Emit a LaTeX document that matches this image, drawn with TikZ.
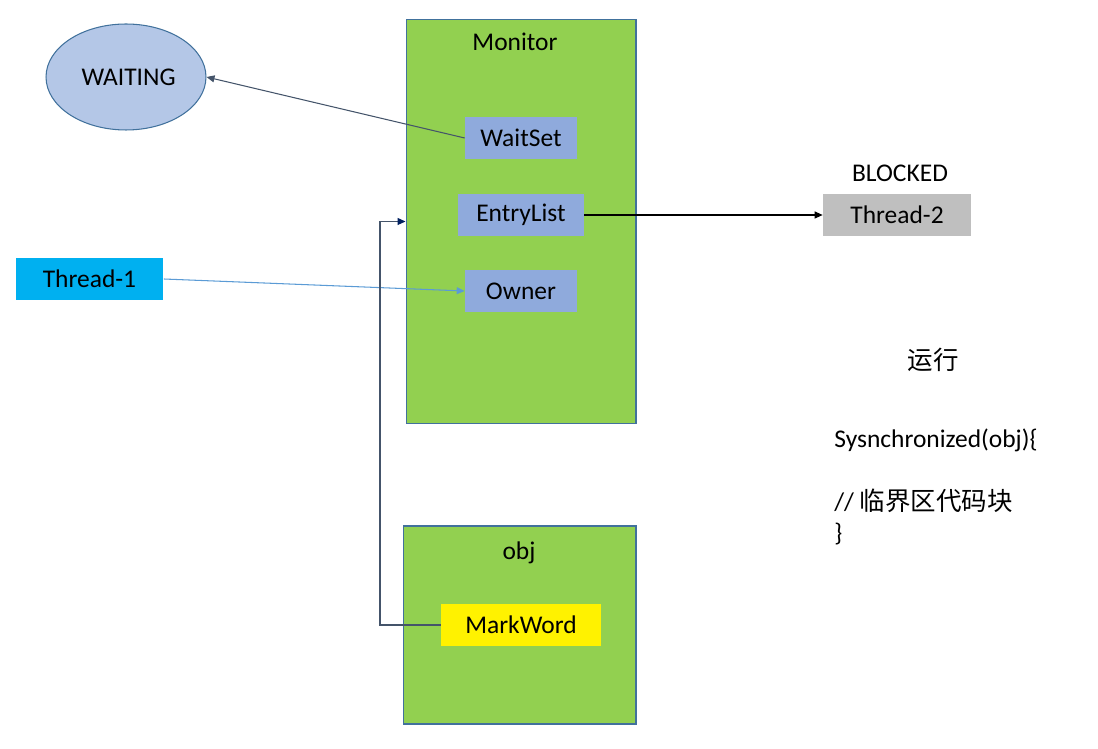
\documentclass[tikz,border=0pt]{standalone}
\usepackage{fontspec}
\setmainfont{Carlito}
\newfontfamily\cjk{Noto Sans CJK SC}
\usetikzlibrary{arrows.meta,positioning,shapes.geometric}

\definecolor{boxgreen}{HTML}{92D050}
\definecolor{boxedge}{HTML}{41719C}
\definecolor{slotblue}{HTML}{8FAADC}
\definecolor{waitfill}{HTML}{B4C7E7}
\definecolor{threadblue}{HTML}{00B0F0}
\definecolor{threadgray}{HTML}{BFBFBF}
\definecolor{waitline}{HTML}{44546A}
\definecolor{ownerline}{HTML}{5B9BD5}
\definecolor{navy}{HTML}{002060}

\begin{document}
\begin{tikzpicture}[x=0.02cm,y=-0.02cm,>={Triangle[length=1.6mm,width=1.4mm]},
  every node/.style={font=\fontsize{14.5}{17}\selectfont,inner sep=0pt},
  container/.style={draw=boxedge,fill=boxgreen,line width=0.6pt},
  slot/.style={fill=slotblue,minimum height=0.84cm},
  threadbox/.style={minimum width=2.96cm,minimum height=0.84cm}]
\useasboundingbox (0,0) rectangle (1098,749);
\node[container,minimum width=4.6cm,minimum height=8.1cm] (monitor) at (521,221.5) {};
\node (monitortitle) at (515,42) {Monitor};
\node[slot,minimum width=2.24cm] (waitset) at (521,138) {WaitSet};
\node[slot,minimum width=2.52cm] (entrylist) at (521,215) {EntryList};
\node[slot,minimum width=2.24cm] (owner) at (521,291) {Owner};
\node[ellipse,draw=boxedge,fill=waitfill,line width=0.6pt,minimum width=3.2cm,minimum height=2.12cm] (waiting) at (126,77) {\hspace{3pt}WAITING};
\node[threadbox,fill=threadblue] (thread1) at (89.5,279) {Thread-1};
\node[threadbox,fill=threadgray] (thread2) at (897,215) {Thread-2};
\node (blocked) at (900,173) {BLOCKED};
\node[container,minimum width=4.66cm,minimum height=3.96cm] (obj) at (519.5,625) {};
\node (objtitle) at (519,553) {obj};
\node[fill=yellow,minimum width=3.2cm,minimum height=0.84cm] (markword) at (521,625) {MarkWord};
\node (running) at (933,360) {\cjk 运行};
\node[anchor=west] (codeopen) at (834,440) {Sysnchronized(obj)\{};
\node[anchor=west] (codebody) at (834,501) {// {\cjk 临界区代码块}};
\node[anchor=west] (codeclose) at (834,534) {\}};
\coordinate (bend) at (380,625);
\draw[->,waitline,line width=0.6pt] (waitset.west) -- (waiting.east);
\draw[->,black,line width=0.6pt] (entrylist.east) -- (thread2.west);
\draw[->,ownerline,line width=0.6pt] (thread1.east) -- (owner.west);
\draw[-{Triangle[length=1.6mm,width=1.4mm,color=navy]},waitline,line width=0.7pt] (markword.west) -- (bend) |- (monitor.west);
\end{tikzpicture}
\end{document}
